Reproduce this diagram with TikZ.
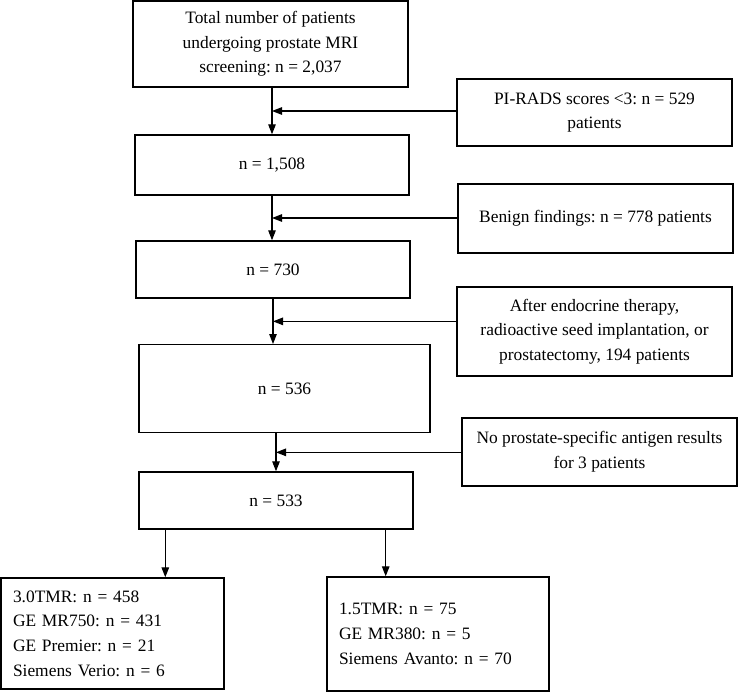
\documentclass[tikz,border=0pt]{standalone}
\usepackage{fontspec}
\setmainfont{Liberation Serif}
\usetikzlibrary{arrows.meta,calc}
\frenchspacing

\begin{document}
\begin{tikzpicture}[x=1pt, y=-1pt, >={Triangle[length=10pt,width=7.5pt]},
  box/.style={draw, line width=1.4pt, inner sep=0pt, align=center,
    font=\fontsize{17.4}{24.7}\selectfont},
  side/.style={box, minimum width=275pt},
  list/.style={box, align=left, inner xsep=12pt, text width=#1},
  flow/.style={line width=1.2pt, ->}]
\useasboundingbox (0,0) rectangle (738,693);
% main column
\node[box, minimum width=275pt, minimum height=86pt] (total) at (270.5,44)
  {Total number of patients\\undergoing prostate MRI\\screening: n = 2,037};
\node[box, minimum width=274pt, minimum height=60pt] (n1508) at (272,165) {n = 1,508};
\node[box, minimum width=274pt, minimum height=57pt] (n730) at (273,269.5) {n = 730};
\node[box, minimum width=291pt, minimum height=88pt] (n536) at (284.5,388.7) {n = 536};
\node[box, minimum width=274pt, minimum height=57pt] (n533) at (276,500.5) {n = 533};
% exclusions
\node[side, minimum height=67pt] (pirads) at (594.5,112.5)
  {PI-RADS scores <3: n = 529\\patients};
\node[side, minimum height=69pt] (benign) at (595.5,218.5)
  {Benign findings: n = 778 patients};
\node[side, minimum height=89pt] (endo) at (594.5,331.5)
  {After endocrine therapy,\\radioactive seed implantation, or\\prostatectomy, 194 patients};
\node[side, minimum height=68pt] (nopsa) at (599.5,452)
  {No prostate-specific antigen results\\for 3 patients};
% scanners
\node[list=199pt, minimum height=111pt] (mr30) at (112.5,633.5)
  {3.0TMR: n = 458\\GE MR750: n = 431\\GE Premier: n = 21\\Siemens Verio: n = 6};
\node[list=198pt, minimum height=114pt] (mr15) at (438,634)
  {1.5TMR: n = 75\\GE MR380: n = 5\\Siemens Avanto: n = 70};
% junctions
\coordinate (j1) at ($(n1508.north |- total.south)!.5!(n1508.north)$);
\coordinate (j2) at ($(n1508.south)!.5!(n1508.south |- n730.north)$);
\coordinate (j3) at ($(n730.south)!.5!(n730.south |- n536.north)$);
\coordinate (j4) at ($(n533.north |- n536.south)!.5!(n533.north)$);
% arrows
\draw[flow] (n1508.north |- total.south) -- (n1508.north);
\draw[flow] (n1508.south) -- (n1508.south |- n730.north);
\draw[flow] (n730.south) -- (n730.south |- n536.north);
\draw[flow] (n533.north |- n536.south) -- (n533.north);
\draw[flow] (pirads.west |- j1) -- (j1);
\draw[flow] (benign.west |- j2) -- (j2);
\draw[flow] (endo.west |- j3) -- (j3);
\draw[flow] (nopsa.west |- j4) -- (j4);
\draw[flow] ([xshift=27pt]n533.south west) -- ([xshift=27pt]n533.south west |- mr30.north);
\draw[flow] ([xshift=-28pt]n533.south east) -- ([xshift=-28pt]n533.south east |- mr15.north);
\end{tikzpicture}
\end{document}
